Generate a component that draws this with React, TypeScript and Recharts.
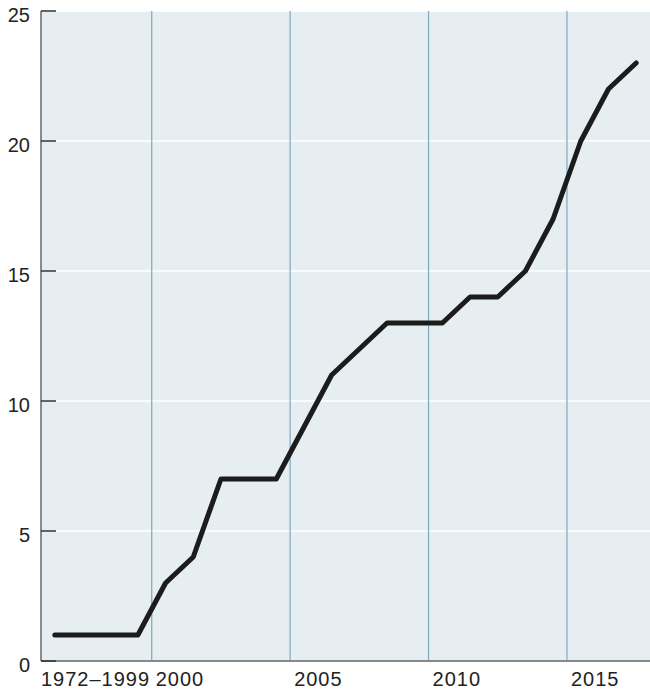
import { CartesianGrid, Line, LineChart, ReferenceLine, XAxis, YAxis } from "recharts";

const VALUES = [1, 1, 1, 1, 3, 4, 7, 7, 7, 9, 11, 12, 13, 13, 13, 14, 14, 15, 17, 20, 22, 23];
const X_TICK_LABELS = ["1972–1999", "2000", "2005", "2010", "2015"];
const X_TICK_POSITIONS = [-0.5, 3.5, 8.5, 13.5, 18.5];
const PERIOD_DIVIDERS = [3.5, 8.5, 13.5, 18.5];
const Y_TICKS = [0, 5, 10, 15, 20, 25];

const data = VALUES.map((value, i) => ({ idx: i, value }));

const FONT = "'Liberation Sans', Arial, Helvetica, sans-serif";

function XTick({ x, y, payload, index }: any) {
  const i = X_TICK_POSITIONS.indexOf(payload.value);
  return (
    <text
      x={x + (index === 0 ? 0 : 4)}
      y={y + 25}
      textAnchor="start"
      fontSize={20}
      letterSpacing={1}
      fill="#222"
      fontFamily={FONT}
    >
      {X_TICK_LABELS[i]}
    </text>
  );
}

function YTick({ x, y, payload }: any) {
  return (
    <g>
      <line x1={x} x2={x + 15} y1={y} y2={y} stroke="#333" strokeWidth={1.5} />
      <text x={x - 11} y={y + 11} textAnchor="end" fontSize={20} fill="#222" fontFamily={FONT}>
        {payload.value}
      </text>
    </g>
  );
}

export default function App() {
  return (
    <div style={{ position: "absolute", left: 0, top: 0, width: 650, height: 689, background: "#fff" }}>
      <LineChart width={650} height={689} data={data} margin={{ top: 11, right: 0, bottom: 0, left: 0 }}>
        <CartesianGrid fill="#e6eef2" stroke="#ffffff" strokeWidth={1.5} vertical={false} />
        {PERIOD_DIVIDERS.map((d) => (
          <ReferenceLine key={d} x={d} stroke="#7ea8bd" strokeWidth={1.2} />
        ))}
        <XAxis
          dataKey="idx"
          type="number"
          domain={[-0.5, 21.5]}
          ticks={X_TICK_POSITIONS}
          interval={0}
          height={28}
          tickSize={0}
          tickMargin={0}
          tickLine={false}
          axisLine={{ stroke: "#888", strokeWidth: 2 }}
          tick={<XTick />}
        />
        <YAxis
          type="number"
          domain={[0, 25]}
          ticks={Y_TICKS}
          width={41}
          tickSize={0}
          tickMargin={0}
          tickLine={false}
          axisLine={{ stroke: "#666", strokeWidth: 1.5 }}
          tick={<YTick />}
        />
        <Line
          type="linear"
          dataKey="value"
          stroke="#1c1c1c"
          strokeWidth={5}
          strokeLinejoin="round"
          strokeLinecap="round"
          dot={false}
          isAnimationActive={false}
        />
      </LineChart>
    </div>
  );
}
